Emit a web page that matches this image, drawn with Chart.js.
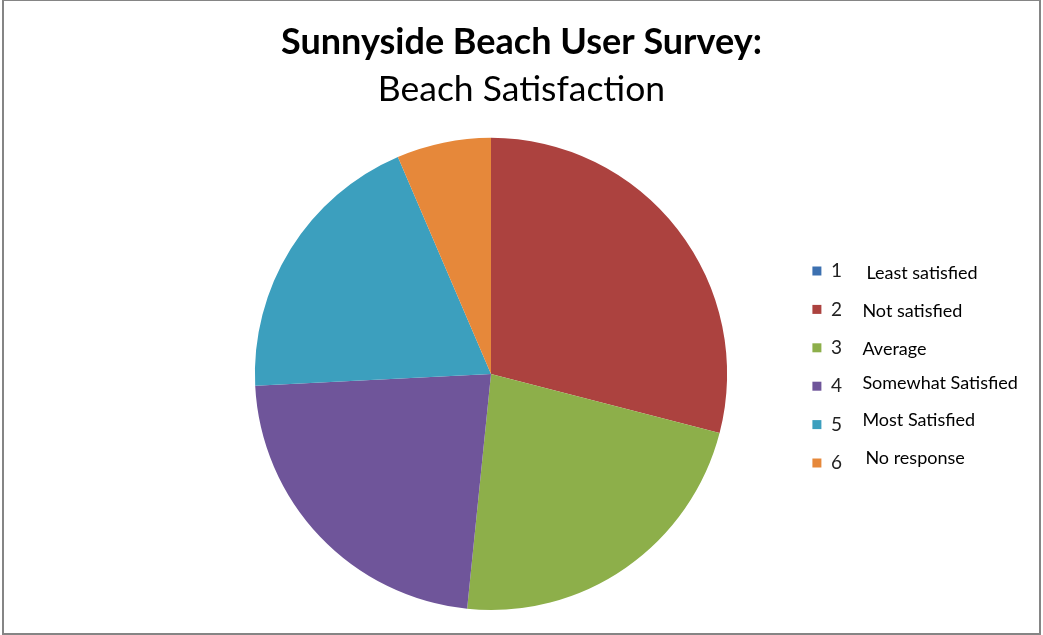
<!DOCTYPE html>
<html>
<head>
<meta charset="utf-8">
<title>Sunnyside Beach User Survey</title>
<script src="https://cdn.jsdelivr.net/npm/chart.js@4/dist/chart.umd.min.js"></script>
<style>
  html, body { margin: 0; padding: 0; background: #fff; }
  #wrap { position: relative; width: 1043px; height: 635px; }
  #frame {
    position: absolute; left: 2px; top: 0; width: 1039px; height: 635px;
    box-sizing: border-box; border: 2px solid #858585; border-top-width: 1px;
    pointer-events: none;
  }
</style>
</head>
<body>
<div id="wrap">
  <canvas id="pie" width="1043" height="635"></canvas>
  <div id="frame"></div>
</div>
<script>
// survey answers, one slice per rating
var ratings = ["1", "2", "3", "4", "5", "6"];
var descriptions = ["Least satisfied", "Not satisfied", "Average", "Somewhat Satisfied", "Most Satisfied", "No response"];
var responses = [0, 9, 7, 7, 6, 2];
var colors = ["#3C70B0", "#AC423F", "#8DAF4A", "#6F559A", "#3C9FBE", "#E6883A"];

// the description text boxes sit a bit off from each legend row
var descShiftX = [54, 50, 50, 50, 50, 53];
var descShiftY = [2, 2, 1, -3, -4, -5];

var legendWidth = 61;

var legendTweaks = {
  id: "legendTweaks",
  beforeUpdate: function (chart) {
    var lg = chart.legend;
    if (lg && !lg._wrapped) {
      var fit = lg.fit;
      lg.fit = function () {
        fit.call(this);
        this.width = legendWidth;
      };
      lg._wrapped = true;
    }
  },
  afterLayout: function (chart) {
    // push the legend column down beside the middle of the pie
    chart.legend.top += 62;
    chart.legend.bottom += 62;
  },
  afterDraw: function (chart) {
    var ctx = chart.ctx;
    var boxes = chart.legend.legendHitBoxes;
    ctx.save();
    ctx.fillStyle = "#000";
    ctx.font = "18px Lato";
    ctx.textBaseline = "middle";
    for (var i = 0; i < boxes.length; i++) {
      var hb = boxes[i];
      ctx.fillText(descriptions[i], hb.left + descShiftX[i], hb.top + hb.height / 2 + descShiftY[i]);
    }
    ctx.restore();
  }
};

new Chart(document.getElementById("pie"), {
  type: "pie",
  data: {
    labels: ratings,
    datasets: [{
      data: responses,
      backgroundColor: colors,
      borderWidth: 0
    }]
  },
  options: {
    responsive: false,
    animation: false,
    layout: { padding: { left: 189, right: 189, top: 0, bottom: 25 } },
    plugins: {
      title: {
        display: true,
        text: "Sunnyside Beach User Survey:",
        color: "#000",
        font: { family: "Lato", size: 36, weight: "bold", lineHeight: 1.2 },
        padding: { top: 21, bottom: 4 }
      },
      subtitle: {
        display: true,
        text: "Beach Satisfaction",
        color: "#000",
        font: { family: "Lato", size: 35.5, weight: "normal", lineHeight: 1.2 },
        padding: { top: 0, bottom: 27 }
      },
      legend: {
        position: "right",
        labels: {
          boxWidth: 9,
          boxHeight: 9,
          padding: 19.4,
          color: "#222",
          font: { family: "Lato", size: 19 }
        }
      },
      tooltip: { enabled: false }
    }
  },
  plugins: [legendTweaks]
});
</script>
</body>
</html>
